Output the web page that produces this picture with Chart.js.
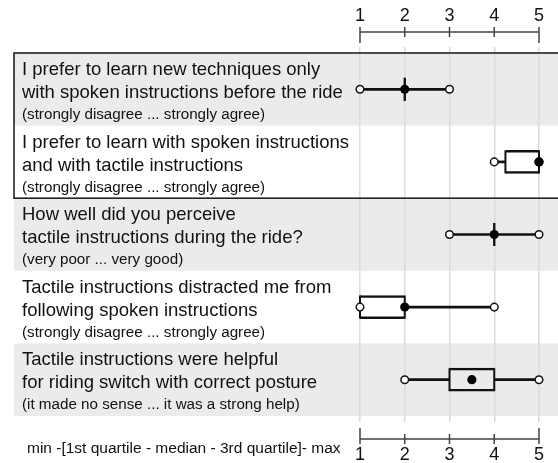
<!DOCTYPE html>
<html>
<head>
<meta charset="utf-8">
<script src="https://cdn.jsdelivr.net/npm/chart.js@4.4.1/dist/chart.umd.min.js"></script>
<style>
  html, body { margin: 0; padding: 0; background: #fff; }
  #wrap { width: 558px; height: 463px; }
</style>
</head>
<body>
<div id="wrap"><canvas id="boxChart" width="558" height="463"></canvas></div>
<script>
const questions = [
  ['I prefer to learn new techniques only', 'with spoken instructions before the ride'],
  ['I prefer to learn with spoken instructions', 'and with tactile instructions'],
  ['How well did you perceive', 'tactile instructions during the ride?'],
  ['Tactile instructions distracted me from', 'following spoken instructions'],
  ['Tactile instructions were helpful', 'for riding switch with correct posture']
];
const scaleHints = [
  '(strongly disagree ... strongly agree)',
  '(strongly disagree ... strongly agree)',
  '(very poor ... very good)',
  '(strongly disagree ... strongly agree)',
  '(it made no sense ... it was a strong help)'
];
const minValues = [1, 4, 3, 1, 2];
const q1Values = [2, 4.25, 4, 1, 3];
const medianValues = [2, 5, 4, 2, 3.5];
const q3Values = [2, 5, 4, 2, 4];
const maxValues = [3, 5, 5, 4, 5];
const tickValues = [1, 2, 3, 4, 5];
const legendText = 'min -[1st quartile - median - 3rd quartile]- max';
const framedRows = [0, 1];

const FONT = '"Liberation Sans", Arial, Helvetica, sans-serif';
const INK = '#111';

// backgrounds, question texts, frame and the two axis lines
const rowDecor = {
  id: 'rowDecor',
  beforeDraw(chart) {
    const { ctx, scales: { y } } = chart;
    const half = (y.getPixelForValue(1) - y.getPixelForValue(0)) / 2;
    ctx.save();
    questions.forEach((lines, i) => {
      const top = y.getPixelForValue(i) - half;
      if (i % 2 === 0) {
        ctx.fillStyle = '#ebebeb';
        ctx.fillRect(14, top, chart.width - 14, half * 2);
      }
      ctx.fillStyle = INK;
      ctx.textBaseline = 'alphabetic';
      ctx.textAlign = 'left';
      ctx.font = '18.5px ' + FONT;
      lines.forEach((t, k) => ctx.fillText(t, 22, top + 22 + k * 23));
      ctx.font = '15.2px ' + FONT;
      ctx.fillText(scaleHints[i], 22, top + 66);
    });
    ctx.restore();
  },
  afterDraw(chart) {
    const { ctx, scales: { x, x2, y } } = chart;
    const half = (y.getPixelForValue(1) - y.getPixelForValue(0)) / 2;
    ctx.save();

    // frame round the first two questions
    const fTop = y.getPixelForValue(framedRows[0]) - half;
    const fBottom = y.getPixelForValue(framedRows[framedRows.length - 1]) + half;
    ctx.strokeStyle = '#222';
    ctx.lineWidth = 1.6;
    ctx.strokeRect(14, fTop, chart.width + 10, fBottom - fTop);

    const drawAxis = (scale, yLine, dir) => {
      const last = tickValues.length - 1;
      ctx.beginPath();
      ctx.moveTo(scale.getPixelForValue(tickValues[0]), yLine);
      ctx.lineTo(scale.getPixelForValue(tickValues[last]), yLine);
      tickValues.forEach((v, k) => {
        const px = scale.getPixelForValue(v);
        const ext = (k === 0 || k === last) ? 11 : 5;
        ctx.moveTo(px, yLine - 5 * dir);
        ctx.lineTo(px, yLine + ext * dir);
      });
      ctx.strokeStyle = '#444';
      ctx.lineWidth = 1.5;
      ctx.stroke();
    };
    drawAxis(x2, x2.bottom - 21, 1);
    drawAxis(x, x.top + 23, -1);

    ctx.fillStyle = INK;
    ctx.font = '15.5px ' + FONT;
    ctx.textBaseline = 'alphabetic';
    ctx.fillText(legendText, 27, x.top + 37);
    ctx.restore();
  }
};

const pointSet = (data, opts) => Object.assign({
  type: 'scatter',
  data: data,
  borderColor: INK,
  clip: false
}, opts);

// fixed axis band heights; tick padding must not widen the side margins
const fitAxis = (h) => (s) => {
  s.height = h;
  s.paddingLeft = 0;
  s.paddingRight = 0;
};

new Chart(document.getElementById('boxChart'), {
  type: 'bar',
  data: {
    labels: questions.map(q => q.join(' ')),
    datasets: [
      pointSet(medianValues, { pointRadius: 4.6, backgroundColor: '#000', borderWidth: 0, order: 0 }),
      pointSet(minValues, { pointRadius: 3.8, backgroundColor: '#fff', borderWidth: 1.5, order: 1 }),
      pointSet(maxValues, { pointRadius: 3.8, backgroundColor: '#fff', borderWidth: 1.5, order: 1 }),
      pointSet(q1Values, { pointStyle: 'line', rotation: 90, pointRadius: 11.5, borderWidth: 2, order: 2 }),
      pointSet(q3Values, { pointStyle: 'line', rotation: 90, pointRadius: 11.5, borderWidth: 2, order: 2 }),
      {
        data: q1Values.map((q, i) => [q, q3Values[i]]),
        backgroundColor: 'rgba(0,0,0,0)',
        borderColor: INK,
        borderWidth: { top: 1.8, bottom: 1.8, left: 0, right: 0 },
        borderSkipped: false,
        barThickness: 23,
        grouped: false,
        clip: false,
        order: 3
      },
      {
        data: minValues.map((m, i) => [m, q1Values[i]]),
        backgroundColor: INK,
        barThickness: 2,
        grouped: false,
        clip: false,
        order: 4
      },
      {
        data: q3Values.map((q, i) => [q, maxValues[i]]),
        backgroundColor: INK,
        barThickness: 2,
        grouped: false,
        clip: false,
        order: 4
      }
    ]
  },
  options: {
    indexAxis: 'y',
    responsive: false,
    animation: false,
    events: [],
    layout: { padding: { left: 360, right: 19, top: 0, bottom: 0 } },
    plugins: { legend: { display: false }, tooltip: { enabled: false } },
    scales: {
      y: { type: 'category', display: false },
      x: {
        type: 'linear',
        position: 'bottom',
        min: 1,
        max: 5,
        afterFit: fitAxis(47),
        border: { display: false },
        grid: { color: '#dcdcdc', lineWidth: 1.5, tickLength: 6, tickColor: '#dcdcdc' },
        ticks: { stepSize: 1, padding: 24, color: INK, font: { family: FONT, size: 18, lineHeight: 1 } }
      },
      x2: {
        type: 'linear',
        position: 'top',
        min: 1,
        max: 5,
        afterFit: fitAxis(53),
        border: { display: false },
        grid: { drawOnChartArea: false, lineWidth: 1.5, tickLength: 6, color: '#dcdcdc', tickColor: '#dcdcdc' },
        ticks: { stepSize: 1, padding: 22, color: INK, font: { family: FONT, size: 18, lineHeight: 1 } }
      }
    }
  },
  plugins: [rowDecor]
});
</script>
</body>
</html>
